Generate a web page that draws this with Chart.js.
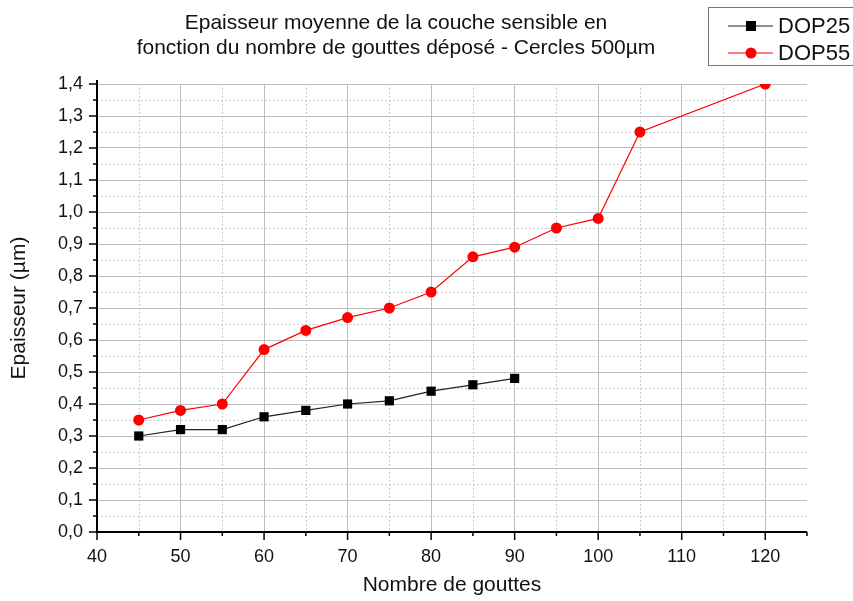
<!DOCTYPE html>
<html>
<head>
<meta charset="utf-8">
<script src="https://cdn.jsdelivr.net/npm/chart.js@4"></script>
<style>
  html, body { margin: 0; padding: 0; background: #fff; }
  #wrap { width: 853px; height: 601px; }
</style>
</head>
<body>
<div id="wrap"><canvas id="chart" width="853" height="601"></canvas></div>
<script>
// nombre de gouttes / épaisseur mesurée (µm)
const gouttesDOP25 = [45, 50, 55, 60, 65, 70, 75, 80, 85, 90];
const epaisseurDOP25 = [0.30, 0.32, 0.32, 0.36, 0.38, 0.40, 0.41, 0.44, 0.46, 0.48];
const gouttesDOP55 = [45, 50, 55, 60, 65, 70, 75, 80, 85, 90, 95, 100, 105, 120];
const epaisseurDOP55 = [0.35, 0.38, 0.40, 0.57, 0.63, 0.67, 0.70, 0.75, 0.86, 0.89, 0.95, 0.98, 1.25, 1.40];
const titre = ['Epaisseur moyenne de la couche sensible en', 'fonction du nombre de gouttes déposé - Cercles 500µm'];

const FONT = 'Arial, "Liberation Sans", sans-serif';

const isMajorX = v => v % 10 === 0;
const isMajorY = v => Math.abs(v * 10 - Math.round(v * 10)) < 1e-6;

function toPoints(xs, ys) {
  return xs.map((x, i) => ({ x: x, y: ys[i] }));
}

// grille secondaire pointillée + graduations (longues/courtes) + titre + légende encadrée
const decor = {
  id: 'decor',
  beforeDatasetsDraw(chart) {
    const { ctx, chartArea: a, scales } = chart;
    ctx.save();
    ctx.strokeStyle = '#cccccc';
    ctx.lineWidth = 1;
    ctx.setLineDash([2, 2]);
    scales.x.ticks.forEach(t => {
      if (isMajorX(t.value) || t.value === scales.x.min || t.value === scales.x.max) return;
      const px = Math.round(scales.x.getPixelForValue(t.value)) + 0.5;
      ctx.beginPath(); ctx.moveTo(px, a.top); ctx.lineTo(px, a.bottom); ctx.stroke();
    });
    scales.y.ticks.forEach(t => {
      if (isMajorY(t.value)) return;
      const py = Math.round(scales.y.getPixelForValue(t.value)) + 0.5;
      ctx.beginPath(); ctx.moveTo(a.left, py); ctx.lineTo(a.right, py); ctx.stroke();
    });
    ctx.restore();
  },
  afterDraw(chart) {
    const { ctx, chartArea: a, scales } = chart;
    ctx.save();
    // axes
    ctx.strokeStyle = '#000';
    ctx.lineWidth = 2;
    ctx.beginPath();
    ctx.moveTo(a.left, a.top - 4); ctx.lineTo(a.left, a.bottom); ctx.lineTo(a.right, a.bottom);
    ctx.stroke();
    ctx.lineWidth = 1.5;
    scales.x.ticks.forEach(t => {
      const px = scales.x.getPixelForValue(t.value);
      const len = isMajorX(t.value) ? 8 : 4;
      ctx.beginPath(); ctx.moveTo(px, a.bottom); ctx.lineTo(px, a.bottom + len); ctx.stroke();
    });
    scales.y.ticks.forEach(t => {
      const py = scales.y.getPixelForValue(t.value);
      const len = isMajorY(t.value) ? 8 : 4;
      ctx.beginPath(); ctx.moveTo(a.left, py); ctx.lineTo(a.left - len, py); ctx.stroke();
    });

    // titre
    ctx.fillStyle = '#111';
    ctx.font = '21px ' + FONT;
    ctx.textAlign = 'center';
    ctx.textBaseline = 'middle';
    ctx.fillText(titre[0], 396, 23);
    ctx.fillText(titre[1], 396, 48);

    // légende
    ctx.strokeStyle = '#777';
    ctx.lineWidth = 1;
    ctx.strokeRect(708.5, 7.5, 160, 58);
    chart.data.datasets.forEach((ds, i) => {
      const y = 26 + i * 27;
      ctx.strokeStyle = ds.borderColor;
      ctx.lineWidth = 1.2;
      ctx.beginPath(); ctx.moveTo(728, y); ctx.lineTo(773, y); ctx.stroke();
      ctx.fillStyle = ds.pointBackgroundColor;
      if (ds.pointStyle === 'rect') {
        ctx.fillRect(746, y - 5, 10, 10);
      } else {
        ctx.beginPath(); ctx.arc(751, y, 5.5, 0, Math.PI * 2); ctx.fill();
      }
      ctx.fillStyle = '#111';
      ctx.textAlign = 'left';
      ctx.font = '22px ' + FONT;
      ctx.fillText(ds.label, 778, y + 1);
    });
    ctx.restore();
  }
};

new Chart(document.getElementById('chart'), {
  type: 'line',
  data: {
    datasets: [
      {
        label: 'DOP25',
        data: toPoints(gouttesDOP25, epaisseurDOP25),
        borderColor: '#222',
        borderWidth: 1.2,
        pointStyle: 'rect',
        pointRadius: 6.5,
        pointBackgroundColor: '#000',
        pointBorderColor: '#000',
        pointBorderWidth: 0,
        tension: 0
      },
      {
        label: 'DOP55',
        data: toPoints(gouttesDOP55, epaisseurDOP55),
        borderColor: '#ff0000',
        borderWidth: 1.2,
        pointStyle: 'circle',
        pointRadius: 5.5,
        pointBackgroundColor: '#ff0000',
        pointBorderColor: '#ff0000',
        pointBorderWidth: 0,
        tension: 0
      }
    ]
  },
  options: {
    responsive: false,
    animation: false,
    layout: { padding: { top: 84, right: 46, left: 0, bottom: 0 } },
    plugins: {
      legend: { display: false },
      title: { display: false },
      tooltip: { enabled: false }
    },
    scales: {
      x: {
        type: 'linear',
        min: 40,
        max: 125,
        afterFit: s => { s.height = 69; },
        border: { display: false },
        grid: {
          drawTicks: false,
          color: c => (isMajorX(c.tick.value) && c.tick.value !== 40) ? '#bdbdbd' : 'rgba(0,0,0,0)'
        },
        ticks: {
          stepSize: 5,
          padding: 14,
          autoSkip: false,
          maxRotation: 0,
          color: '#111',
          font: { size: 18, family: FONT },
          callback: v => isMajorX(v) ? String(v) : ''
        },
        title: {
          display: true,
          text: 'Nombre de gouttes',
          color: '#111',
          font: { size: 21, family: FONT },
          padding: { top: 0, bottom: 3 }
        }
      },
      y: {
        type: 'linear',
        min: 0,
        max: 1.4,
        afterFit: s => { s.width = 97; },
        border: { display: false },
        grid: {
          drawTicks: false,
          color: c => (isMajorY(c.tick.value) && c.tick.value !== 0) ? '#bdbdbd' : 'rgba(0,0,0,0)'
        },
        ticks: {
          stepSize: 0.05,
          padding: 14,
          autoSkip: false,
          color: '#111',
          font: { size: 18, family: FONT },
          callback: v => isMajorY(v) ? v.toFixed(1).replace('.', ',') : ''
        },
        title: {
          display: true,
          text: 'Epaisseur (µm)',
          color: '#111',
          font: { size: 21, family: FONT },
          padding: { top: 7, bottom: 0 }
        }
      }
    }
  },
  plugins: [decor]
});
</script>
</body>
</html>
